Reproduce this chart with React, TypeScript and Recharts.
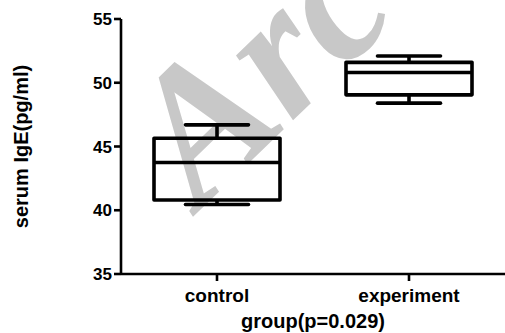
import { ComposedChart, Bar, XAxis, YAxis } from 'recharts';

const groups = ['control', 'experiment'];
const minVals = [40.45, 48.4];
const q1Vals = [40.8, 49.05];
const medianVals = [43.75, 50.8];
const q3Vals = [45.65, 51.6];
const maxVals = [46.7, 52.1];
const yTicks = [35, 40, 45, 50, 55];

const data = groups.map((name, i) => ({
  name,
  range: [minVals[i], maxVals[i]],
  min: minVals[i],
  q1: q1Vals[i],
  median: medianVals[i],
  q3: q3Vals[i],
  max: maxVals[i],
}));

const FONT = '"Liberation Sans", Arial, sans-serif';
const SW = 3.6;

// draws one box + whiskers inside the [min, max] range bar rect
function BoxShape(props: any) {
  const { x, y, width, height, payload } = props;
  const top = Math.min(y, y + height);
  const bottom = Math.max(y, y + height);
  const k = (bottom - top) / (payload.max - payload.min);
  const yOf = (v: number) => top + (payload.max - v) * k;
  const cx = x + width / 2;
  const capHalf = width * 0.25;
  const ln = { stroke: '#000', strokeWidth: SW };
  return (
    <g>
      <line {...ln} x1={cx} x2={cx} y1={yOf(payload.max)} y2={yOf(payload.q3)} />
      <line {...ln} x1={cx} x2={cx} y1={yOf(payload.q1)} y2={yOf(payload.min)} />
      <line {...ln} x1={cx - capHalf} x2={cx + capHalf} y1={yOf(payload.max)} y2={yOf(payload.max)} strokeLinecap="round" />
      <line {...ln} x1={cx - capHalf} x2={cx + capHalf} y1={yOf(payload.min)} y2={yOf(payload.min)} strokeLinecap="round" />
      <rect {...ln} fill="none" x={x} y={yOf(payload.q3)} width={width} height={yOf(payload.q1) - yOf(payload.q3)} strokeLinejoin="round" />
      <line {...ln} x1={x} x2={x + width} y1={yOf(payload.median)} y2={yOf(payload.median)} />
    </g>
  );
}

export default function App() {
  return (
    <div style={{ position: 'absolute', left: 0, top: 0, width: 505, height: 333, background: '#fff', overflow: 'hidden' }}>
      {/* watermark */}
      <svg width={505} height={333} style={{ position: 'absolute', left: 0, top: 0 }}>
        <text
          x={200}
          y={210}
          transform="rotate(-44 200 210)"
          fontFamily='"Liberation Serif", "Times New Roman", serif'
          fontStyle="italic"
          fontWeight="bold"
          fontSize={188}
          fill="#c8c8c8"
        >
          Arc
        </text>
      </svg>
      <div style={{ position: 'absolute', left: 0, top: 0 }}>
        <ComposedChart width={505} height={333} data={data} margin={{ top: 19, right: 0, bottom: 0, left: 0 }}>
          <XAxis
            dataKey="name"
            height={59}
            stroke="#000"
            axisLine={{ stroke: '#000', strokeWidth: 2.6 }}
            tickLine={{ stroke: '#000', strokeWidth: 2.6 }}
            tickSize={7}
            tickMargin={8}
            tick={{ fill: '#000', fontSize: 19, fontWeight: 'bold', fontFamily: FONT }}
            label={(p: any) => {
              const vb = p.viewBox;
              return (
                <text x={vb.x + vb.width / 2} y={vb.y + vb.height - 5} textAnchor="middle" fontFamily={FONT} fontWeight="bold" fontSize={20} fill="#000">
                  group(p=0.029)
                </text>
              );
            }}
          />
          <YAxis
            type="number"
            width={121}
            domain={[35, 55]}
            ticks={yTicks}
            stroke="#000"
            axisLine={{ stroke: '#000', strokeWidth: 2.6 }}
            tickLine={{ stroke: '#000', strokeWidth: 2.6 }}
            tickSize={7}
            tickMargin={2}
            tick={{ fill: '#000', fontSize: 17, fontWeight: 'bold', fontFamily: FONT }}
            label={(p: any) => {
              const vb = p.viewBox;
              const cy = vb.y + vb.height / 2;
              return (
                <text x={28} y={cy} transform={`rotate(-90 28 ${cy})`} textAnchor="middle" fontFamily={FONT} fontWeight="bold" fontSize={20} fill="#000">
                  serum IgE(pg/ml)
                </text>
              );
            }}
          />
          <Bar dataKey="range" barSize={126} shape={BoxShape} isAnimationActive={false} />
        </ComposedChart>
      </div>
    </div>
  );
}
